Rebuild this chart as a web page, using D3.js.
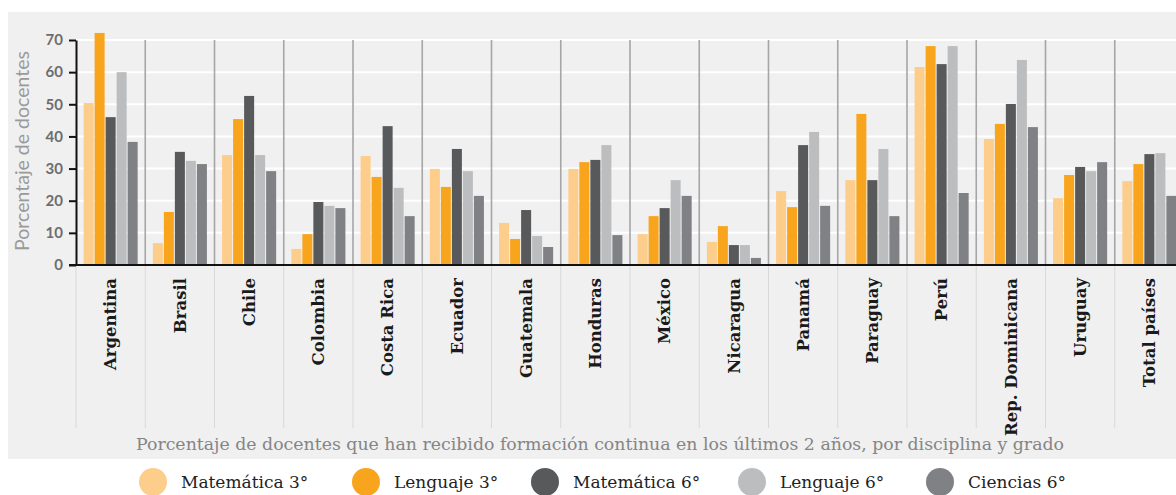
<!DOCTYPE html>
<html><head><meta charset="utf-8">
<script src="https://cdn.jsdelivr.net/npm/d3@7/dist/d3.min.js"></script>
<style>
html,body{margin:0;padding:0;background:#fff;}
svg{display:block;}
</style></head>
<body>
<svg id="chart" width="1176" height="495"></svg>
<script>
const countries = ["Argentina","Brasil","Chile","Colombia","Costa Rica","Ecuador","Guatemala","Honduras","México","Nicaragua","Panamá","Paraguay","Perú","Rep. Dominicana","Uruguay","Total países"];
const seriesNames = ["Matemática 3°","Lenguaje 3°","Matemática 6°","Lenguaje 6°","Ciencias 6°"];
const seriesColors = ["#fdcd8c","#f8a51d","#58595b","#bcbdbf","#808184"];
const matematica3 = [50.4, 6.8, 34.2, 5.0, 33.9, 29.9, 13.1, 29.9, 9.6, 7.2, 23.0, 26.4, 61.6, 39.2, 20.8, 26.1];
const lenguaje3   = [72.2, 16.5, 45.4, 9.6, 27.4, 24.3, 8.1, 32.0, 15.2, 12.1, 18.0, 47.0, 68.1, 43.9, 28.0, 31.4];
const matematica6 = [46.0, 35.2, 52.6, 19.6, 43.2, 36.1, 17.1, 32.7, 17.7, 6.2, 37.3, 26.4, 62.5, 50.1, 30.5, 34.5];
const lenguaje6   = [60.0, 32.4, 34.2, 18.4, 24.0, 29.2, 9.0, 37.3, 26.4, 6.2, 41.4, 36.1, 68.1, 63.8, 29.2, 34.8];
const ciencias6   = [38.3, 31.4, 29.2, 17.7, 15.2, 21.5, 5.6, 9.3, 21.5, 2.2, 18.4, 15.2, 22.4, 42.9, 32.0, 21.5];
const yTicks = [0,10,20,30,40,50,60,70];
const yTitle = "Porcentaje de docentes";
const xTitle = "Porcentaje de docentes que han recibido formación continua en los últimos 2 años, por disciplina y grado";

const seriesValues = [matematica3, lenguaje3, matematica6, lenguaje6, ciencias6];

const svg = d3.select("#chart");
const W = 1176, H = 495;
const left = 76, plotTop = 40, baseY = 265, catW = 69.25;

// panel background
svg.append("rect").attr("x", 8).attr("y", 12).attr("width", W - 8).attr("height", 447).attr("fill", "#f0f0f0");

const x0 = d3.scaleBand().domain(countries).range([left, left + catW * countries.length]).paddingInner(0).paddingOuter(0);
const x1 = d3.scaleBand().domain(seriesNames).range([0, x0.bandwidth()]).paddingInner(0.09).paddingOuter(0.69);
const y = d3.scaleLinear().domain([0, 70]).range([baseY, plotTop]);

// horizontal gridlines
svg.append("g").selectAll("line").data(yTicks.filter(d => d > 0)).join("line")
  .attr("x1", left).attr("x2", W).attr("y1", d => y(d)).attr("y2", d => y(d))
  .attr("stroke", "#ffffff").attr("stroke-width", 2);

// category separators
const seps = countries.map(c => x0(c));
svg.append("g").selectAll("line").data(seps.slice(1)).join("line")
  .attr("x1", d => d).attr("x2", d => d).attr("y1", plotTop).attr("y2", baseY)
  .attr("stroke", "#a6a6a6").attr("stroke-width", 1.6);
svg.append("g").selectAll("line").data(seps).join("line")
  .attr("x1", d => d).attr("x2", d => d).attr("y1", baseY).attr("y2", 428)
  .attr("stroke", "#d9d9d9").attr("stroke-width", 1);

// bars
const groups = svg.append("g").selectAll("g").data(countries).join("g")
  .attr("transform", c => `translate(${x0(c)},0)`);
groups.selectAll("rect").data((c, i) => seriesNames.map((s, k) => ({s, k, v: seriesValues[k][i]}))).join("rect")
  .attr("x", d => x1(d.s)).attr("width", x1.bandwidth())
  .attr("y", d => y(d.v)).attr("height", d => y(0) - y(d.v))
  .attr("fill", d => seriesColors[d.k]);

// y axis
const yAxis = svg.append("g").attr("transform", `translate(${left},0)`)
  .call(d3.axisLeft(y).tickValues(yTicks).tickSize(7).tickPadding(6).tickSizeOuter(0));
yAxis.select(".domain").attr("stroke", "#111").attr("stroke-width", 2);
yAxis.selectAll(".tick line").attr("stroke", "#111").attr("stroke-width", 2);
yAxis.selectAll(".tick text").attr("fill", "#6d6d6d").attr("font-family", "Lato").attr("font-weight", "bold").attr("font-size", 15);

// baseline
svg.append("line").attr("x1", left - 7).attr("x2", W).attr("y1", baseY).attr("y2", baseY)
  .attr("stroke", "#111").attr("stroke-width", 2);

// category labels
const xAxis = svg.append("g").attr("transform", `translate(0,${baseY})`)
  .call(d3.axisBottom(x0).tickSize(0).tickPadding(0));
xAxis.select(".domain").remove();
xAxis.selectAll(".tick text")
  .attr("transform", "rotate(-90)")
  .attr("x", -13).attr("y", 0).attr("dy", "0.35em")
  .attr("text-anchor", "end")
  .attr("fill", "#1a1a1a").attr("font-family", "DejaVu Serif").attr("font-weight", "bold").attr("font-size", 16.5);

// axis titles
svg.append("text").attr("transform", "translate(29,151) rotate(-90)")
  .attr("text-anchor", "middle").attr("fill", "#9a9a9a")
  .attr("font-family", "Lato").attr("font-size", 19.5).text(yTitle);
svg.append("text").attr("x", 600).attr("y", 450).attr("text-anchor", "middle")
  .attr("fill", "#858585").attr("font-family", "DejaVu Serif").attr("font-size", 17)
  .attr("textLength", 928).attr("lengthAdjust", "spacingAndGlyphs").text(xTitle);

// legend
const legendX = [153, 366, 545, 752, 940];
const legend = svg.append("g").selectAll("g").data(seriesNames).join("g")
  .attr("transform", (d, i) => `translate(${legendX[i]},482)`);
legend.append("circle").attr("r", 14).attr("fill", (d, i) => seriesColors[i]);
legend.append("text").attr("x", 28).attr("y", 0).attr("dy", "0.35em")
  .attr("fill", "#222").attr("font-family", "DejaVu Serif").attr("font-size", 17).text(d => d);
</script>
</body></html>
